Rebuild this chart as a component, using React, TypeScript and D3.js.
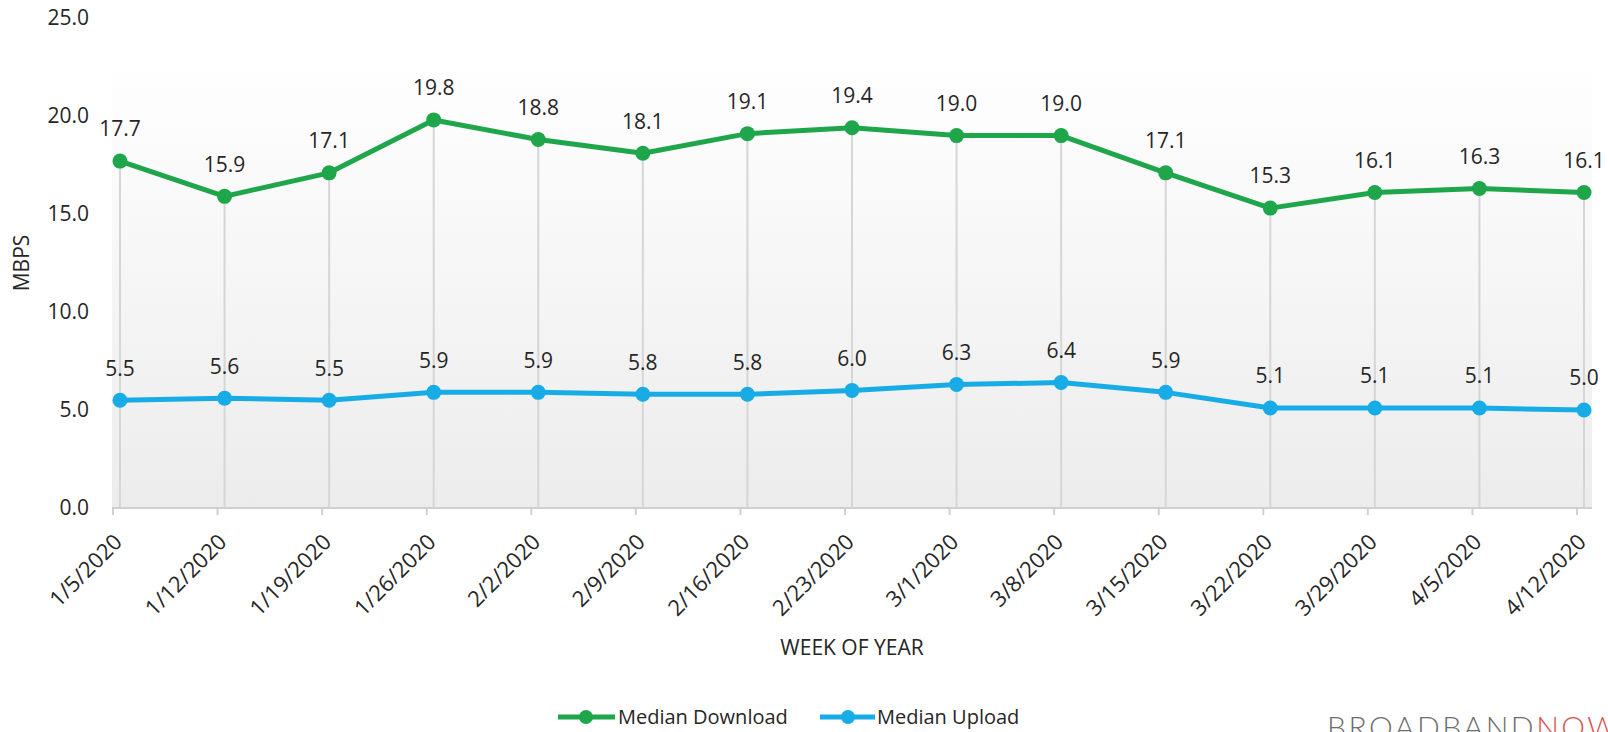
import React from "react";
import * as d3 from "d3";

const weeks = ["1/5/2020","1/12/2020","1/19/2020","1/26/2020","2/2/2020","2/9/2020","2/16/2020","2/23/2020","3/1/2020","3/8/2020","3/15/2020","3/22/2020","3/29/2020","4/5/2020","4/12/2020"];
const download = [17.7,15.9,17.1,19.8,18.8,18.1,19.1,19.4,19.0,19.0,17.1,15.3,16.1,16.3,16.1];
const upload = [5.5,5.6,5.5,5.9,5.9,5.8,5.8,6.0,6.3,6.4,5.9,5.1,5.1,5.1,5.0];
const yTicks = [0,5,10,15,20,25];

const W = 1608, H = 732;
const GREEN = "#1FA64B";
const BLUE = "#18ACE6";
const FONT = "'Open Sans', sans-serif";
const TXT = "#262626";

export default function App() {
  const x = d3.scalePoint<string>().domain(weeks).range([120, 1584]);
  const y = d3.scaleLinear().domain([0, 25]).range([508, 18]);
  const plotL = 112, plotR = 1592;
  const line = d3.line<number>().x((_, i) => x(weeks[i])!).y(d => y(d));

  return (
    <svg width={W} height={H} style={{ position: "fixed", left: 0, top: 0, background: "#fff" }}>
      <defs>
        <linearGradient id="bg" x1="0" y1="0" x2="0" y2="1">
          <stop offset="0" stopColor="#ffffff" />
          <stop offset="1" stopColor="#ececec" />
        </linearGradient>
      </defs>
      <rect x={plotL} y={y(23)} width={plotR - plotL} height={y(0) - y(23)} fill="url(#bg)" />
      {/* drop lines */}
      {weeks.map((w, i) => (
        <line key={w} x1={x(w)} x2={x(w)} y1={y(download[i])} y2={y(0)} stroke="#d6d6d6" strokeWidth={2} />
      ))}
      {/* x axis */}
      <line x1={plotL} x2={plotR} y1={y(0)} y2={y(0)} stroke="#d0d0d0" strokeWidth={2} />
      {weeks.map(w => (
        <line key={"t" + w} x1={x(w)! - 7} x2={x(w)! - 7} y1={y(0)} y2={y(0) + 7} stroke="#d0d0d0" strokeWidth={2} />
      ))}
      {/* y tick labels */}
      {yTicks.map(t => (
        <text key={t} x={89} y={y(t)} dy="0.35em" textAnchor="end" fontFamily={FONT} fontSize={21} fill={TXT}>
          {t.toFixed(1)}
        </text>
      ))}
      <text transform={`translate(29,${(y(0) + y(25)) / 2}) rotate(-90)`} textAnchor="middle" fontFamily={FONT} fontSize={21} fill={TXT}>MBPS</text>
      {/* x tick labels */}
      {weeks.map(w => (
        <text key={"l" + w} transform={`translate(${x(w)! - 2},${y(0) + 30}) rotate(-45)`} textAnchor="end" dy="0.35em" fontFamily={FONT} fontSize={22} fill={TXT}>
          {w}
        </text>
      ))}
      <text x={852} y={648} dy="0.35em" textAnchor="middle" fontFamily={FONT} fontSize={21} fill={TXT}>WEEK OF YEAR</text>
      {/* series */}
      {[{ d: download, c: GREEN }, { d: upload, c: BLUE }].map((s, si) => (
        <g key={si}>
          <path d={line(s.d)!} fill="none" stroke={s.c} strokeWidth={5} strokeLinejoin="round" />
          {s.d.map((v, i) => (
            <circle key={i} cx={x(weeks[i])} cy={y(v)} r={7.5} fill={s.c} />
          ))}
          {s.d.map((v, i) => (
            <text key={"v" + i} x={x(weeks[i])} y={y(v) - 32} dy="0.35em" textAnchor="middle" fontFamily={FONT} fontSize={21} fill={TXT}>
              {v.toFixed(1)}
            </text>
          ))}
        </g>
      ))}
      {/* legend */}
      <g>
        <line x1={558} x2={615} y1={717} y2={717} stroke={GREEN} strokeWidth={5} />
        <circle cx={586} cy={717} r={7} fill={GREEN} />
        <text x={618} y={717} dy="0.35em" fontFamily={FONT} fontSize={20} fill={TXT}>Median Download</text>
        <line x1={820} x2={875} y1={717} y2={717} stroke={BLUE} strokeWidth={5} />
        <circle cx={848} cy={717} r={7} fill={BLUE} />
        <text x={877} y={717} dy="0.35em" fontFamily={FONT} fontSize={20} fill={TXT}>Median Upload</text>
      </g>
      <text x={1327} y={738} fontFamily="Lato, sans-serif" fontWeight={300} fontSize={30} letterSpacing={2.5} fill="#6e6e6e">
        BROADBAND<tspan fill="#d9534f">NOW</tspan>
      </text>
    </svg>
  );
}
